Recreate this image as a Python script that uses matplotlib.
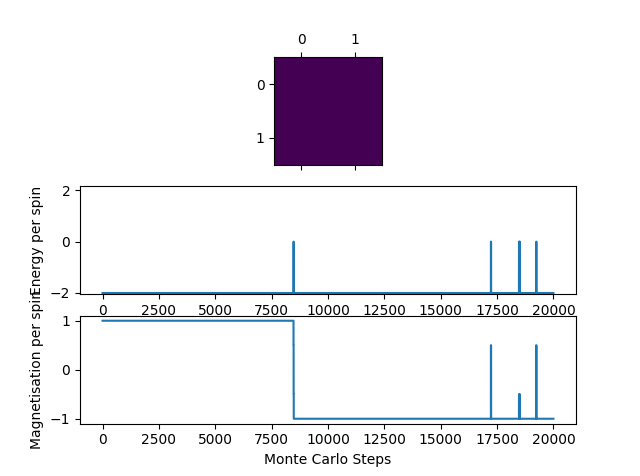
import numpy as np
import matplotlib
matplotlib.use("Agg")
import matplotlib.pyplot as plt

# final lattice state (2x2, all spins equal)
lattice = [[-1, -1],
           [-1, -1]]

# energy per spin, key points of the trace
energy_steps = [0, 8470, 8471, 8480, 8481, 17225, 17226, 17235, 17236,
                18470, 18471, 18478, 18479, 18500, 18501, 18508, 18509,
                19235, 19236, 19245, 19246, 20000]
energy_vals = [-2, -2, 0, 0, -2, -2, 0, 0, -2,
               -2, 0, 0, -2, -2, 0, 0, -2,
               -2, 0, 0, -2, -2]

# magnetisation per spin, key points of the trace
mag_steps = [0, 8470, 8471, 8475, 8476, 8480, 8481, 17225, 17226, 17235, 17236,
             18470, 18471, 18478, 18479, 18500, 18501, 18508, 18509,
             19235, 19236, 19245, 19246, 20000]
mag_vals = [1, 1, 0.5, 0.5, -0.5, -0.5, -1, -1, 0.5, 0.5, -1,
            -1, -0.5, -0.5, -1, -1, -0.5, -0.5, -1,
            -1, 0.5, 0.5, -1, -1]

fig, ax = plt.subplots(3, 1, figsize=(6.4, 4.76), dpi=100)

ax[0].matshow(np.array(lattice))

ax[1].plot(energy_steps, energy_vals)
ax[1].set_ylabel("Energy per spin")
ax[1].set_ylim(-2.05, 2.15)

ax[2].plot(mag_steps, mag_vals)
ax[2].set_ylabel("Magnetisation per spin")
ax[2].set_xlabel("Monte Carlo Steps")

plt.savefig("out.png")
